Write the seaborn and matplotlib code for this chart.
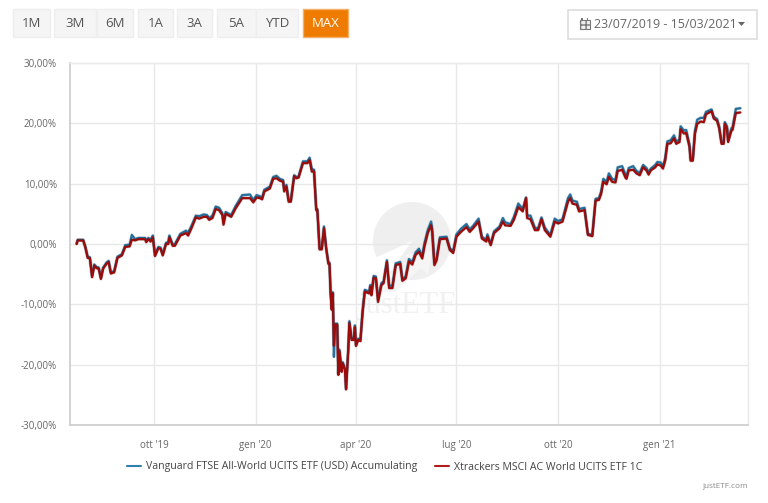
import matplotlib
matplotlib.use('Agg')
import matplotlib.pyplot as plt
import matplotlib.patheffects as pe
from matplotlib.patches import Rectangle, Wedge, Polygon
import seaborn as sns
import pandas as pd

sns.set_theme(style='whitegrid')
plt.rcParams['font.family'] = ['Open Sans', 'DejaVu Sans']

# DATA
start_date = '2019-07-23'
days = [0, 1, 6, 8, 10, 12, 14, 16, 18, 20,
        22, 24, 27, 29, 31, 34, 37, 41, 44, 48,
        50, 53, 56, 62, 63, 65, 67, 69, 71, 74,
        76, 78, 81, 83, 84, 87, 89, 94, 99, 101,
        104, 108, 111, 115, 118, 120, 123, 126, 129, 132,
        133, 135, 140, 144, 150, 157, 160, 163, 166, 168,
        170, 175, 178, 181, 184, 187, 188, 190, 192, 194,
        197, 199, 201, 205, 209, 211, 213, 215, 217, 218,
        220, 222, 223, 224, 226, 228, 229, 230, 231, 232,
        233, 234, 236, 237, 238, 240, 241, 243, 244, 246,
        247, 249, 251, 252, 253, 255, 257, 259, 261, 265,
        266, 267, 269, 271, 273, 276, 278, 281, 283, 286,
        289, 293, 295, 298, 301, 304, 307, 310, 313, 315,
        318, 321, 322, 324, 326, 329, 335, 338, 341, 344,
        348, 353, 356, 359, 364, 367, 371, 372, 375, 378,
        383, 386, 388, 393, 396, 400, 404, 407, 408, 411,
        415, 418, 421, 424, 429, 433, 436, 440, 445, 447,
        449, 453, 455, 460, 463, 467, 470, 473, 475, 477,
        480, 482, 485, 488, 490, 494, 497, 498, 500, 504,
        507, 510, 513, 516, 518, 520, 524, 526, 529, 531,
        533, 535, 538, 541, 543, 546, 547, 550, 552, 555,
        556, 558, 560, 562, 565, 568, 570, 575, 577, 580,
        582, 584, 586, 587, 589, 590, 593, 594, 597, 601]

vanguard = [0.1, 0.7, 0.7, -0.5, -2.1, -2.2, -5.3, -3.4, -3.8, -3.9,
            -5.6, -3.9, -3.1, -2.8, -4.7, -4.5, -2.1, -1.7, -0.2, -0.1,
            1.5, 0.8, 1.0, 1.0, 0.6, 1.0, 0.7, 1.4, -1.8, -0.5,
            -0.6, -1.7, 0.2, 0.3, 1.4, -0.1, 0.0, 1.7, 2.2, 1.9,
            3.0, 4.7, 4.6, 4.9, 4.8, 4.3, 4.7, 6.2, 6.0, 5.1,
            3.5, 5.3, 4.8, 6.3, 8.1, 8.2, 7.3, 8.1, 7.9, 7.7,
            9.0, 9.5, 11.1, 11.3, 10.8, 10.6, 9.0, 9.8, 7.3, 7.3,
            11.4, 11.1, 11.2, 13.7, 13.7, 14.3, 12.4, 12.3, 5.8, 5.8,
            -0.7, -0.7, 1.1, 2.9, -0.6, -3.1, -3.1, -8.0, -10.7, -8.0,
            -18.7, -13.2, -13.2, -21.5, -17.5, -21.0, -19.6, -20.7, -23.9, -17.4,
            -12.8, -15.7, -15.7, -13.5, -16.7, -15.7, -15.9, -11.0, -7.6, -7.9,
            -6.8, -8.2, -5.3, -5.4, -9.3, -6.5, -6.2, -2.7, -6.9, -6.9,
            -3.2, -3.0, -5.8, -5.4, -2.5, -3.0, -1.4, -0.8, -2.0, 0.1,
            2.3, 3.7, 2.5, -3.2, -2.4, 1.1, 1.2, -0.7, -1.2, 1.6,
            2.5, 3.3, 2.4, 3.0, 4.2, 1.2, 0.7, 1.6, 0.0, 2.1,
            2.9, 4.3, 3.6, 3.3, 4.5, 6.7, 5.8, 7.7, 4.7, 4.7,
            2.7, 2.6, 4.4, 2.7, 1.5, 4.2, 3.8, 4.1, 7.6, 8.2,
            7.2, 7.0, 5.8, 6.0, 1.7, 1.5, 7.5, 7.6, 8.7, 10.8,
            10.3, 11.7, 10.8, 10.6, 12.7, 12.9, 11.5, 11.2, 12.6, 12.9,
            12.1, 11.8, 13.1, 12.6, 11.9, 12.5, 13.1, 13.6, 13.5, 12.9,
            14.2, 17.0, 17.2, 18.0, 17.0, 17.3, 19.5, 18.8, 18.9, 16.5,
            14.1, 14.1, 18.8, 20.6, 20.9, 20.9, 21.9, 22.3, 21.1, 20.7,
            19.4, 16.9, 16.9, 20.2, 19.5, 17.1, 19.2, 19.3, 22.4, 22.5]

xtrackers = [0.0, 0.6, 0.55, -0.65, -2.3, -2.4, -5.5, -3.6, -4.0, -4.1,
             -5.8, -4.1, -3.3, -3.0, -4.9, -4.7, -2.3, -1.9, -0.5, -0.4,
             0.7, 0.6, 0.8, 0.8, 0.3, 0.8, 0.4, 1.1, -2.0, -0.7,
             -0.8, -1.9, 0.0, 0.0, 1.1, -0.3, -0.3, 1.4, 1.8, 1.4,
             2.6, 4.4, 4.2, 4.5, 4.5, 4.0, 4.3, 5.8, 5.6, 4.8,
             3.2, 5.0, 4.5, 5.9, 7.6, 7.6, 6.9, 7.7, 7.6, 7.4,
             8.7, 9.2, 10.8, 10.9, 10.5, 10.3, 8.7, 9.5, 7.0, 7.0,
             11.2, 10.9, 11.0, 13.4, 13.4, 13.9, 12.0, 12.0, 5.6, 5.6,
             -0.9, -0.9, 0.9, 2.6, -0.8, -3.3, -3.3, -8.2, -10.9, -8.2,
             -16.8, -13.4, -13.4, -21.7, -17.8, -21.2, -19.8, -20.9, -24.1, -17.6,
             -13.1, -15.9, -15.9, -13.8, -16.9, -15.9, -16.1, -11.3, -7.9, -8.2,
             -7.1, -8.5, -5.6, -5.7, -9.6, -6.8, -6.5, -3.0, -7.3, -7.3,
             -3.5, -3.3, -6.1, -5.7, -2.9, -3.4, -1.8, -1.3, -2.4, -0.4,
             1.8, 3.1, 2.0, -3.5, -2.7, 0.8, 0.9, -1.0, -1.5, 1.2,
             2.0, 2.8, 2.0, 2.6, 3.7, 0.9, 0.4, 1.2, -0.2, 1.8,
             2.6, 3.7, 3.1, 3.0, 4.0, 6.1, 5.4, 7.6, 4.3, 4.1,
             2.3, 2.3, 4.1, 2.3, 1.2, 3.7, 3.4, 3.7, 7.0, 7.6,
             6.7, 6.5, 5.4, 5.6, 1.5, 1.3, 7.2, 7.3, 8.3, 10.3,
             9.9, 11.1, 10.3, 10.2, 12.1, 12.3, 11.0, 10.8, 12.2, 12.3,
             11.7, 11.4, 12.7, 12.2, 11.5, 12.2, 12.7, 13.2, 13.0, 12.5,
             13.8, 16.6, 16.7, 17.5, 16.6, 16.9, 19.0, 18.3, 18.4, 16.1,
             13.8, 13.8, 18.3, 19.9, 20.3, 20.2, 21.5, 22.0, 20.8, 20.4,
             19.1, 16.6, 16.6, 19.9, 19.1, 16.9, 18.8, 18.9, 21.7, 21.8]

vanguard_name = 'Vanguard FTSE All-World UCITS ETF (USD) Accumulating'
xtrackers_name = 'Xtrackers MSCI AC World UCITS ETF 1C'

y_ticks = [-30, -20, -10, 0, 10, 20, 30]
y_tick_labels = ['-30,00%', '-20,00%', '-10,00%', '0,00%', '10,00%', '20,00%', '30,00%']
x_ticks = ['2019-10-01', '2020-01-01', '2020-04-01', '2020-07-01', '2020-10-01', '2021-01-01']
x_tick_labels = ["ott '19", "gen '20", "apr '20", "lug '20", "ott '20", "gen '21"]

range_buttons = ['1M', '3M', '6M', '1A', '3A', '5A', 'YTD', 'MAX']
button_edges = [(13, 50), (54, 96), (97, 133), (138, 173), (177, 212), (217, 256), (256, 298), (303, 348)]
date_range = '23/07/2019 - 15/03/2021'

df = pd.DataFrame({
    'date': pd.Timestamp(start_date) + pd.to_timedelta(days, unit='D'),
    'vanguard': vanguard,
    'xtrackers': xtrackers,
})

BLUE = '#24709f'
RED = '#9c0a0a'
TEXT = '#666666'

fig = plt.figure(figsize=(7.68, 5.03), dpi=100, facecolor='white')

# page furniture, in pixel coordinates
bg = fig.add_axes([0, 0, 1, 1])
bg.set_xlim(0, 768)
bg.set_ylim(503, 0)
bg.axis('off')

for name, (x0, x1) in zip(range_buttons, button_edges):
    active = name == 'MAX'
    bg.add_patch(Rectangle((x0, 9), x1 - x0, 28, facecolor='#ef7b00' if active else '#f5f5f5',
                           edgecolor='#f3b06a' if active else '#eeeeee', linewidth=1))
    bg.text((x0 + x1) / 2, 23, name, ha='center', va='center', fontsize=9.5,
            color='white' if active else '#555555')

bg.add_patch(Rectangle((568, 9.5), 189, 29, facecolor='white', edgecolor='#dddddd', linewidth=1.2))
bg.add_patch(Rectangle((579.5, 19.5), 10, 9.5, facecolor='#f0f0f0', edgecolor='#777777', linewidth=0.8, hatch='+++'))
bg.add_patch(Rectangle((581, 17.5), 1.5, 2.5, color='#777777', linewidth=0))
bg.add_patch(Rectangle((586.5, 17.5), 1.5, 2.5, color='#777777', linewidth=0))
bg.text(594, 24, date_range, ha='left', va='center', fontsize=9.0, color=TEXT)
bg.add_patch(Polygon([(738, 22), (745, 22), (741.5, 26)], color=TEXT, linewidth=0))

# watermark
bg.add_patch(Wedge((412, 241), 39, 0, 360, facecolor='#efefef', linewidth=0))
bg.add_patch(Polygon([(412, 241), (366, 262), (366, 290), (378, 290)], facecolor='white', linewidth=0))
bg.add_patch(Polygon([(372, 292), (412, 262), (405, 255), (432, 250), (428, 275), (421, 268), (395, 292)],
                     facecolor='#f5f5f5', linewidth=0))
bg.text(407, 306, 'justETF', ha='center', va='center', fontsize=22, family='Liberation Serif', color='#f1f1f1')

bg.text(748, 486, 'justETF.com', ha='right', va='center', fontsize=5.9, color='#888888')

# chart
ax = fig.add_axes([70 / 768, 1 - 425 / 503, (748 - 70) / 768, (425 - 63) / 503])
ax.patch.set_alpha(0)

shadow = [pe.Stroke(linewidth=2.5, foreground='#000000', alpha=0.14), pe.Normal()]
sns.lineplot(data=df, x='date', y='vanguard', ax=ax, color=BLUE, linewidth=1.6,
             label=vanguard_name, estimator=None, path_effects=shadow)
sns.lineplot(data=df, x='date', y='xtrackers', ax=ax, color=RED, linewidth=1.6,
             label=xtrackers_name, estimator=None, path_effects=shadow)

ax.set_xlim(pd.Timestamp('2019-07-17'), pd.Timestamp('2021-03-22'))
ax.set_ylim(-30, 30)
ax.set_xlabel('')
ax.set_ylabel('')
ax.set_yticks(y_ticks)
ax.set_yticklabels(y_tick_labels)
ax.set_xticks(pd.to_datetime(x_ticks))
ax.set_xticklabels(x_tick_labels)
ax.tick_params(axis='both', length=0, labelsize=7.0, labelcolor=TEXT)
ax.tick_params(axis='y', pad=9.5)
ax.tick_params(axis='x', pad=10.5)
ax.grid(True, color='#e8e8e8', linewidth=1)
ax.set_axisbelow(True)

for side in ['top', 'right']:
    ax.spines[side].set_color('#eaeaea')
    ax.spines[side].set_linewidth(1)
for side in ['left', 'bottom']:
    ax.spines[side].set_color('#cccccc')
    ax.spines[side].set_linewidth(1.2)

leg = ax.legend(loc='center', bbox_to_anchor=(385 / 768, 1 - 467 / 503), bbox_transform=fig.transFigure,
                ncol=2, frameon=False, fontsize=7.6, columnspacing=1.7, handlelength=1.3, handletextpad=0.5)
for text in leg.get_texts():
    text.set_color('#444444')
legend_colors = ['#2f7fb3', '#b01c1c']
for line, color in zip(leg.get_lines(), legend_colors):
    line.set_path_effects([])
    line.set_color(color)
    line.set_linewidth(1.5)

fig.savefig('out.png', dpi=100)
